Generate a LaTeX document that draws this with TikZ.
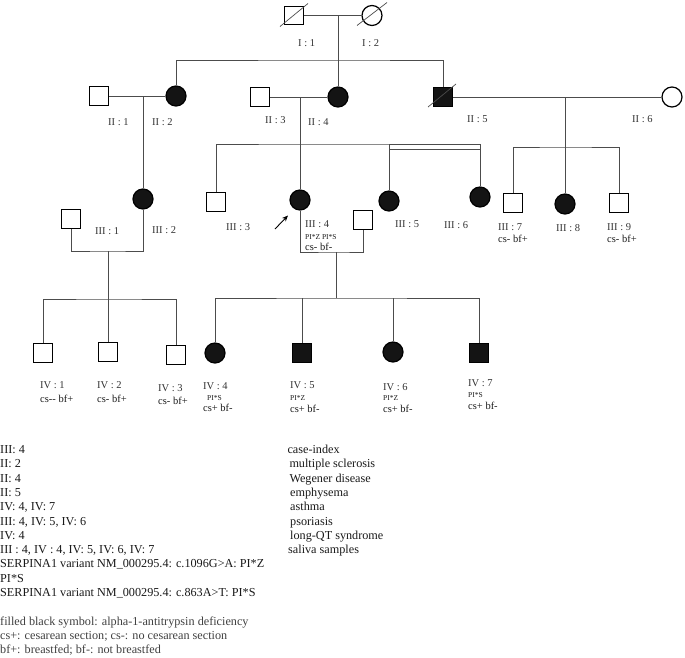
\documentclass[tikz,border=0pt]{standalone}
\usepackage{fontspec}
\setmainfont{Liberation Serif}
\usetikzlibrary{arrows.meta}
\begin{document}
\begin{tikzpicture}[x=1pt,y=-1pt,
  sq/.style={draw=black, line width=1.2pt, rectangle, minimum size=18.5pt, inner sep=0pt},
  ci/.style={draw=black, line width=1.2pt, circle, minimum size=20pt, inner sep=0pt},
  aff/.style={fill=black!92},
  ln/.style={draw=black!70, line width=0.8pt},
  dslash/.style={draw=black!70, line width=0.7pt},
  glab/.style={anchor=west, inner sep=0pt, font=\fontsize{10.5}{12}\selectfont, text height=0.66em, text depth=0pt, text=black!80},
  sub/.style={glab, font=\fontsize{10.5}{12}\selectfont, text=black!90},
  pis/.style={glab, font=\fontsize{7.5}{9}\selectfont, text=black!90},
  leg/.style={anchor=base west, inner sep=0pt, font=\fontsize{12.2}{14}\selectfont, text=black!90},
  legg/.style={leg, text=black!75}
]
\useasboundingbox (0,0) rectangle (685,657);

% ---------- Generation I
\node[sq] (I1) at (294,15.5) {};
\node[ci] (I2) at (372,15.5) {};
\draw[ln] (I1) -- (I2);
\coordinate (Ic) at (338,15.5);
\coordinate (Is) at (338,60);
\draw[dslash] ([shift={(-14,11)}]I1.center) -- ([shift={(14,-12)}]I1.center);
\draw[dslash] ([shift={(-15,10)}]I2.center) -- ([shift={(15,-13)}]I2.center);

% ---------- Generation II
\node[sq] (II1) at (99,96) {};
\node[ci,aff] (II2) at (176,96) {};
\node[sq] (II3) at (260,97) {};
\node[ci,aff] (II4) at (338,97) {};
\node[sq,aff] (II5) at (443,97) {};
\node[ci] (II6) at (672,97) {};
\draw[dslash] ([shift={(-15,10)}]II5.center) -- ([shift={(13,-13)}]II5.center);

\draw[ln] (Ic) -- (II4.north);
\draw[ln] (II2.north) |- (Is) -| (II5.north);
\draw[ln] (II1) -- (II2);
\draw[ln] (II3) -- (II4);
\draw[ln] (II5) -- (II6);

% ---------- Generation III
\node[sq] (III1) at (71,219) {};
\node[ci,aff] (III2) at (143,199) {};
\node[sq] (III3) at (216,202) {};
\node[ci,aff] (III4) at (300,200) {};
\node[sq] (III4s) at (363,220) {};
\node[ci,aff] (III5) at (389,201) {};
\node[ci,aff] (III6) at (480,197) {};
\node[sq] (III7) at (513,203) {};
\node[ci,aff] (III8) at (565,204) {};
\node[sq] (III9) at (619,203) {};

\coordinate (c12) at (143,96);
\draw[ln] (c12) -- (III2.north);

\coordinate (c34) at (300,97);
\coordinate (s34) at (300,144);
\coordinate (s34b) at (300,149);
\draw[ln] (c34) -- (III4.north);
\draw[ln] (III3.north) |- (s34) -| (III6.north);
\draw[ln] (III5.north |- s34) -- (III5.north);
\draw[ln] (III5.north |- s34b) -- (III6.north |- s34b);

\coordinate (c56) at (565,97);
\coordinate (s56) at (565,147);
\draw[ln] (c56) -- (III8.north);
\draw[ln] (III7.north) |- (s56) -| (III9.north);

% ---------- Generation IV
\node[sq] (IV1) at (43,353) {};
\node[sq] (IV2) at (108,352) {};
\node[sq] (IV3) at (176,355) {};
\node[ci,aff] (IV4) at (215,353) {};
\node[sq,aff] (IV5) at (302,353) {};
\node[ci,aff] (IV6) at (393,352) {};
\node[sq,aff] (IV7) at (479,353) {};

\coordinate (m12) at (108,251);
\coordinate (s12) at (108,299);
\draw[ln] (III1.south) |- (m12) -| (III2.south);
\draw[ln] (m12) -- (IV2.north);
\draw[ln] (IV1.north) |- (s12) -| (IV3.north);

\coordinate (m4) at (336,252);
\coordinate (s4) at (336,298);
\draw[ln] (III4.south) |- (m4) -| (III4s.south);
\draw[ln] (m4) -- (s4);
\draw[ln] (IV4.north) |- (s4) -| (IV7.north);
\draw[ln] (IV5.north |- s4) -- (IV5.north);
\draw[ln] (IV6.north |- s4) -- (IV6.north);

% proband arrow
\coordinate (arS) at (275,229);
\coordinate (arE) at (288,215.5);
\draw[line width=0.9pt, -{Stealth[length=6pt,width=5pt]}] (arS) -- (arE);

% ---------- labels
\node[glab] (lI1) at (298,43.5) {I : 1};
\node[glab] (lI2) at (362,43.5) {I : 2};
\node[glab] (lII1) at (108,122) {II : 1};
\node[glab] (lII2) at (152,122) {II : 2};
\node[glab] (lII3) at (265,120) {II : 3};
\node[glab] (lII4) at (308,122) {II : 4};
\node[glab] (lII5) at (467,119.5) {II : 5};
\node[glab] (lII6) at (632,119.5) {II : 6};

\node[glab] (lIII1) at (95,231) {III : 1};
\node[glab] (lIII2) at (152,230) {III : 2};
\node[glab] (lIII3) at (226,227) {III : 3};
\node[glab] (lIII4) at (305,224.5) {III : 4};
\node[pis] (pIII4) at (305,236) {PI*Z PI*S};
\node[sub] (cIII4) at (305,247.5) {cs- bf-};
\node[glab] (lIII5) at (395,224) {III : 5};
\node[glab] (lIII6) at (444,225) {III : 6};
\node[glab] (lIII7) at (498,227) {III : 7};
\node[sub] (cIII7) at (498,239) {cs- bf+};
\node[glab] (lIII8) at (556,228.5) {III : 8};
\node[glab] (lIII9) at (607,227) {III : 9};
\node[sub] (cIII9) at (607,239) {cs- bf+};

\node[glab] (lIV1) at (40,385) {IV : 1};
\node[sub] (cIV1) at (40,399) {cs-{}- bf+};
\node[glab] (lIV2) at (97,385) {IV : 2};
\node[sub] (cIV2) at (97,399.5) {cs- bf+};
\node[glab] (lIV3) at (158,388) {IV : 3};
\node[sub] (cIV3) at (158,401) {cs- bf+};
\node[glab] (lIV4) at (203,386) {IV : 4};
\node[pis] (pIV4) at (207,397) {PI*S};
\node[sub] (cIV4) at (203,408.5) {cs+ bf-};
\node[glab] (lIV5) at (290,385.5) {IV : 5};
\node[pis] (pIV5) at (290,397.5) {PI*Z};
\node[sub] (cIV5) at (290,409.5) {cs+ bf-};
\node[glab] (lIV6) at (383,387) {IV : 6};
\node[pis] (pIV6) at (383,397.5) {PI*Z};
\node[sub] (cIV6) at (383,409.5) {cs+ bf-};
\node[glab] (lIV7) at (468,383) {IV : 7};
\node[pis] (pIV7) at (468,394.5) {PI*S};
\node[sub] (cIV7) at (468,406) {cs+ bf-};

% ---------- legend
\foreach \t [count=\i] in {{III: 4},{II: 2},{II: 4},{II: 5},{IV: 4, IV: 7},{III: 4, IV: 5, IV: 6},{IV: 4},{III : 4, IV : 4, IV: 5, IV: 6, IV: 7},{SERPINA1 variant NM\_000295.4: c.1096G>A: PI*Z},{PI*S},{SERPINA1 variant NM\_000295.4: c.863A>T: PI*S}}
  \node[leg] (L\i) at (0,{453.5+14.3*(\i-1)}) {\t};
\node[legg] (L13) at (0,625.1) {filled black symbol: alpha-1-antitrypsin deficiency};
\node[legg] (L14) at (0,639.4) {cs+: cesarean section; cs-: no cesarean section};
\node[legg] (L15) at (0,653.7) {bf+: breastfed; bf-: not breastfed};

\node[leg] (R1) at (287.3,453.5) {case-index};
\node[leg] (R2) at (289.3,467.8) {multiple sclerosis};
\node[leg] (R3) at (289.3,482.1) {Wegener disease};
\node[leg] (R4) at (290,496.4) {emphysema};
\node[leg] (R5) at (290,510.7) {asthma};
\node[leg] (R6) at (290,525) {psoriasis};
\node[leg] (R7) at (290,539.3) {long-QT syndrome};
\node[leg] (R8) at (288,553.6) {saliva samples};
\end{tikzpicture}
\end{document}
